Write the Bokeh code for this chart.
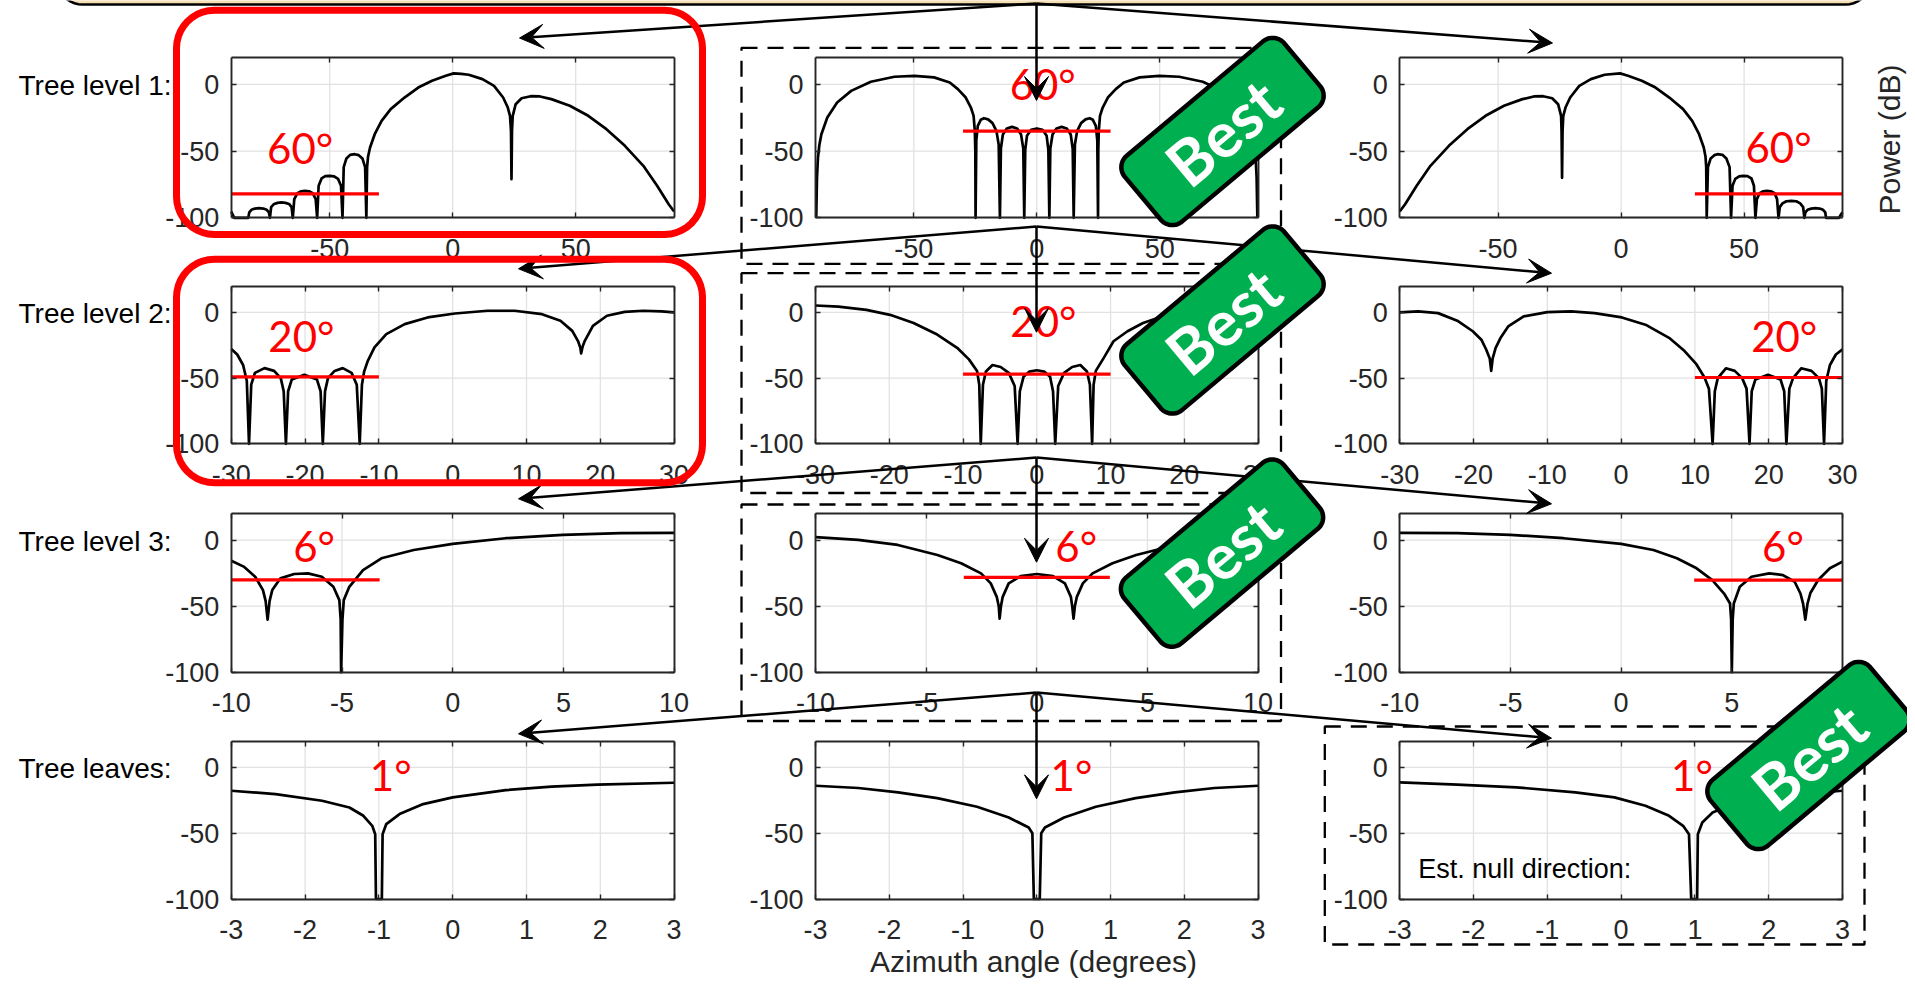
import math
from bokeh.plotting import figure
from bokeh.models import Range1d, LinearAxis, FixedTicker, Arrow, VeeHead, CustomJSTickFormatter
from bokeh.embed import file_html
from bokeh.resources import INLINE
from bokeh.core.properties import value

# ===================== DATA =====================
row_labels = ["Tree level 1:", "Tree level 2:", "Tree level 3:", "Tree leaves:"]
row_xlims = [(-90, 90), (-30, 30), (-10, 10), (-3, 3)]
row_xticks = [[-50, 0, 50], [-30, -20, -10, 0, 10, 20, 30],
              [-10, -5, 0, 5, 10], [-3, -2, -1, 0, 1, 2, 3]]
y_lim = (-100, 20)
y_ticks = [-100, -50, 0]
sector_text = ["60°", "20°", "6°", "1°"]
x_title = "Azimuth angle (degrees)"
y_title = "Power (dB)"
note_text = "Est. null direction:"
best_text = "Best"

# beam patterns (azimuth deg, power dB)
lvl1_left = [(-90, -95.3), (-89.5, -97.5), (-88.8, -100), (-83.1, -100),
             (-82.7, -96), (-81.8, -94), (-80.4, -93.1), (-78.7, -92.8), (-77, -93.1), (-75.6, -94), (-74.7, -96), (-74.3, -100),
             (-73.8, -92), (-72.6, -89.6), (-71.2, -88.8), (-69.6, -88.5), (-68, -88.8), (-66.5, -89.6), (-65.5, -92), (-65.0, -100),
             (-64.4, -86), (-63.1, -81.5), (-61.6, -80.1), (-60, -79.8), (-58.4, -80.1), (-56.9, -81.5), (-55.7, -86), (-55.1, -100),
             (-54.5, -76), (-53.3, -70.5), (-51.8, -68.8), (-50, -68.5), (-48.2, -68.9), (-46.6, -70.8), (-45.4, -76), (-44.8, -100),
             (-44.3, -62), (-43.2, -55.5), (-41.7, -52.8), (-39.8, -52.3), (-38.2, -53), (-36.7, -55.5), (-35.6, -62), (-35.1, -100),
             (-34.8, -62), (-34.4, -54), (-33.6, -47.3), (-31.7, -37.3), (-28.9, -27.3), (-25.2, -18.5), (-19.6, -9.8),
             (-14.0, -2.3), (-8.4, 2.8), (-2.8, 6.5), (0.4, 8.3), (3.5, 8.0), (6.5, 7.3), (12.1, 4.0), (16.8, -1.0),
             (20.5, -9.8), (22.4, -17.3), (23.3, -23.5), (23.7, -35), (23.9, -71), (24.1, -35), (24.4, -23.5),
             (25.6, -14.8), (28.0, -10.3), (31.7, -8.8), (35.5, -9.0), (40.1, -11.0), (47.6, -16.0), (55.1, -23.5),
             (62.5, -33.5), (70.0, -46.0), (77.5, -61.0), (83.1, -76.0), (87.8, -89.8), (90, -95.3)]

lvl1_mid = [(-89.7, -100), (-89.4, -70), (-89.0, -55), (-88.4, -45), (-87.6, -37.3), (-85.2, -24.8), (-81.2, -13.5),
            (-75.5, -4.8), (-67.5, 2.0), (-57.9, 5.8), (-49.8, 6.5), (-41.8, 5.3), (-35.4, 1.5), (-32.1, -3.5),
            (-28.9, -9.8), (-26.8, -17.3), (-25.7, -23.5), (-25.2, -35), (-25.0, -50), (-24.9, -100),
            (-24.6, -42), (-24.0, -31), (-22.8, -26.5), (-21.5, -25.3), (-19.8, -26.2), (-18, -29), (-16.4, -35), (-15.5, -45), (-15.0, -100),
            (-14.6, -48), (-13.8, -37.5), (-12.2, -33), (-10.1, -31.8), (-8.0, -33), (-6.4, -37.5), (-5.5, -48), (-5.1, -100),
            (-4.7, -49), (-4.0, -38.5), (-2.3, -34), (0, -33), (2.3, -34), (4.0, -38.5), (4.7, -49), (5.1, -100),
            (5.5, -48), (6.4, -37.5), (8.0, -33), (10.1, -31.8), (12.2, -33), (13.8, -37.5), (14.6, -48), (15.0, -100),
            (15.5, -45), (16.4, -35), (18, -29), (19.8, -26.2), (21.5, -25.3), (22.8, -26.5), (24.0, -31), (24.6, -42), (24.9, -100),
            (25.0, -50), (25.2, -35), (25.7, -23.5), (26.8, -17.3), (28.9, -9.8), (32.1, -3.5), (35.4, 1.5), (41.8, 5.3),
            (49.8, 6.5), (57.9, 5.8), (67.5, 2.0), (75.5, -4.8), (81.2, -13.5), (85.2, -24.8), (87.6, -37.3),
            (88.4, -45), (89.0, -55), (89.4, -70), (89.7, -100)]

lvl1_right = [(-90, -95.3), (-87.8, -89.8), (-83.1, -76), (-77.5, -61), (-70, -46), (-62.5, -33.5), (-55.1, -23.5),
              (-47.6, -16), (-40.1, -11), (-35.5, -9), (-31.7, -8.8), (-28, -10.3), (-25.6, -14.8), (-24.4, -23.5),
              (-24.2, -35), (-24.0, -70), (-23.8, -35), (-23.5, -23.5), (-22.6, -17.3), (-20.7, -9.8), (-17, -1),
              (-12.3, 4), (-6.7, 7.3), (-0.4, 8.3), (2.8, 6.5), (8.4, 2.8), (14, -2.3), (19.6, -9.8), (25.2, -18.5),
              (28.9, -27.3), (31.7, -37.3), (33.6, -47.3), (34.3, -54), (34.6, -62), (34.8, -100),
              (35.3, -62), (36.4, -55.5), (37.9, -53), (39.2, -52.3), (41.2, -52.8), (42.8, -55.5), (44.1, -62), (44.7, -100),
              (45.3, -76), (46.4, -70.8), (48, -68.9), (49.6, -68.5), (51.4, -68.8), (53, -70.5), (54, -76), (54.6, -100),
              (55.2, -86), (56.3, -81.5), (57.8, -80.1), (59.3, -79.8), (60.9, -80.1), (62.4, -81.5), (63.4, -86), (64.0, -100),
              (64.5, -92), (65.6, -89.2), (67.2, -87.6), (69.2, -87.3), (71.2, -87.6), (72.8, -89.2), (74.0, -92), (74.5, -100),
              (74.9, -96), (75.8, -94), (77.3, -93.1), (79.0, -92.8), (80.7, -93.1), (82.1, -94), (83.0, -96), (83.3, -100),
              (88.6, -100), (89.4, -97.5), (90, -95.8)]

lvl2_left = [(-30, -27.9), (-29.2, -32), (-28.4, -40), (-27.9, -52), (-27.6, -100),
             (-27.3, -55), (-26.8, -46), (-25.5, -42.4), (-24.2, -44.5), (-23.3, -50), (-22.9, -60), (-22.6, -100),
             (-22.3, -60), (-21.8, -51), (-20.1, -47.5), (-18.4, -51), (-17.9, -60), (-17.6, -100),
             (-17.3, -60), (-16.9, -50), (-16.0, -44.5), (-14.9, -42.4), (-13.7, -46), (-13.0, -55), (-12.6, -100),
             (-12.3, -55), (-12.0, -45), (-11.5, -36.8), (-10.6, -26.6), (-9.0, -16.5), (-6.5, -8.9), (-3.4, -3.8),
             (0.3, -0.8), (4.7, 1.3), (8.4, 1.3), (12.1, -1.3), (14.6, -6.3), (16.2, -14), (17.0, -22), (17.3, -27),
             (17.4, -31.2), (17.6, -26), (17.9, -21.6), (19.0, -10.2), (20.9, -2.5), (23.3, 0.5), (25.8, 1.3),
             (28.3, 0.8), (30, 0)]

lvl2_mid = [(-30, 5.3), (-26.9, 4.5), (-23.1, 2), (-19.9, -1.8), (-16.7, -8), (-13.5, -16.8), (-10.8, -26.9),
            (-9.2, -35.7), (-8.1, -44.5), (-7.8, -55), (-7.6, -100),
            (-7.3, -55), (-6.9, -45), (-6.0, -40), (-4.9, -41.5), (-3.8, -46), (-3.0, -56), (-2.6, -100),
            (-2.3, -60), (-1.8, -49), (-1.0, -45), (0, -44), (1.0, -45), (1.8, -49), (2.2, -60), (2.5, -100),
            (2.9, -56), (3.7, -46), (4.8, -41.5), (5.9, -40), (6.8, -45), (7.2, -55), (7.5, -100),
            (7.7, -55), (8.0, -44.5), (9.1, -34.4), (10.4, -21.9), (12.3, -14.3), (14.4, -8), (17.7, -1.8),
            (20.9, 2), (24.1, 4.5), (30, 5.3)]

lvl2_right = [(-30, 0), (-27.5, 0.8), (-24.8, -0.5), (-22.2, -6.3), (-20.1, -14.3), (-18.9, -21), (-18.3, -28),
              (-17.8, -35), (-17.6, -44.5), (-17.4, -35), (-17.0, -27), (-16.3, -19), (-15.3, -10.6), (-13.2, -3),
              (-10, 0.3), (-6.8, 0.8), (-3.6, -0.5), (0.1, -3.8), (3.3, -9.3), (6.5, -19.3), (8.6, -29.4),
              (10.2, -39.4), (11.3, -49.5), (11.9, -58), (12.4, -100),
              (12.7, -60), (13.1, -50), (14.2, -42.5), (15.4, -44.5), (16.4, -50), (17.0, -58), (17.4, -100),
              (17.7, -60), (18.2, -51), (19.9, -47.5), (21.6, -51), (22.1, -60), (22.4, -100),
              (22.8, -58), (23.3, -50), (24.4, -42.5), (25.8, -44.5), (26.8, -50), (27.2, -58), (27.5, -100),
              (27.8, -52), (28.3, -40), (29.1, -32), (30, -28.1)]

lvl3_left = [(-10, -15.5), (-9.44, -20), (-8.92, -27.7), (-8.57, -37.8), (-8.45, -46), (-8.36, -60.2), (-8.27, -46),
             (-8.15, -37.8), (-7.78, -28.9), (-7.16, -25.6), (-6.54, -25.1), (-5.91, -27.7), (-5.39, -35.3),
             (-5.12, -45.4), (-5.06, -60), (-5.04, -100), (-4.98, -60), (-4.92, -45.4), (-4.67, -35.3),
             (-4.05, -22.6), (-3.22, -13.7), (-1.76, -7.4), (0, -2.8), (2.39, 1.5), (4.98, 4.1), (7.57, 5.3), (10, 5.6)]

lvl3_mid = [(-10, 2.3), (-8.07, 0.3), (-6.28, -3.6), (-4.49, -11.2), (-3.42, -17.5), (-2.52, -25.1), (-2.08, -32.7),
            (-1.81, -42.9), (-1.72, -50), (-1.68, -59.4), (-1.62, -50), (-1.54, -42.9), (-1.27, -32.7), (-0.73, -27.2),
            (0, -25.6), (0.73, -27.2), (1.27, -32.7), (1.54, -42.9), (1.6, -50), (1.66, -59.4), (1.72, -50),
            (1.81, -42.9), (2.08, -32.7), (2.52, -25.1), (3.42, -17.5), (4.49, -11.2), (6.28, -3.6), (8.07, 0.3), (10, 2.3)]

lvl3_right = [(-10, 5.6), (-7.4, 5.3), (-5.0, 4.1), (-2.6, 1.5), (0, -2.8), (1.46, -7.4), (2.52, -13.7), (3.41, -21.3),
              (4.12, -30.2), (4.65, -40.4), (4.92, -48), (4.97, -60), (5.0, -100), (5.04, -60), (5.09, -48),
              (5.36, -35.3), (5.89, -27.7), (6.69, -25.1), (7.31, -26.4), (7.84, -31.5), (8.1, -40.4), (8.22, -48),
              (8.32, -60.2), (8.42, -48), (8.55, -40), (8.9, -30.2), (9.43, -21.3), (10, -16.2)]

leaf_left = [(-3, -17.8), (-2.4, -20.3), (-1.77, -25.4), (-1.4, -30.5), (-1.21, -36.8), (-1.09, -44.4), (-1.05, -50.8),
             (-1.04, -100), (-0.96, -100), (-0.95, -50.8), (-0.9, -43.1), (-0.72, -35.5), (-0.4, -27.9), (0, -22.8),
             (0.72, -17.3), (1.34, -14.7), (1.96, -13.2), (3, -11.7)]

leaf_mid = [(-3, -14), (-2.42, -15.7), (-1.88, -19), (-1.35, -23.4), (-0.81, -29.9), (-0.38, -38.1), (-0.11, -45.7),
            (-0.06, -50), (-0.04, -100), (0.04, -100), (0.06, -50), (0.11, -45.7), (0.37, -38.1), (0.8, -29.9),
            (1.34, -23.4), (1.87, -19), (2.41, -15.7), (3, -14)]

leaf_right = [(-3, -11.4), (-2.22, -13.2), (-1.42, -15.2), (-0.62, -19), (-0.09, -22.8), (0.33, -29.2), (0.65, -36.8),
              (0.84, -44.4), (0.92, -50.8), (0.95, -100), (1.03, -100), (1.04, -50.8), (1.1, -41.9), (1.24, -34.3),
              (1.4, -30.5), (1.77, -25.4), (2.4, -20.3), (3, -17.8)]

curves = [[lvl1_left, lvl1_mid, lvl1_right],
          [lvl2_left, lvl2_mid, lvl2_right],
          [lvl3_left, lvl3_mid, lvl3_right],
          [leaf_left, leaf_mid, leaf_right]]

# red sector lines (x0, x1, level dB) per panel, rows 1-3
red_x0 = [[-90, -30, 30], [-30, -10, 10], [-10, -3.3, 3.3]]
red_x1 = [[-30, 30, 90], [-10, 10, 30], [-3.3, 3.3, 10]]
red_lvl = [[-82, -35, -82], [-49, -47, -49.5], [-30, -28.2, -30.2]]

# red sector label positions (data units)
lab_x = [[-62, 2.4, 64], [-20.5, 0.9, 22.1], [-6.26, 1.78, 7.31], [-0.84, 0.47, 0.96]]
lab_y = [[-48, 0, -47], [-18.2, -6.7, -18.2], [-4.6, -4.6, -4.6], [-5.8, -5.8, -5.8]]

note_pos = (-2.75, -77)   # "Est. null direction:" in leaf-right panel

# ===================== LAYOUT =====================
FIG_W, FIG_H = 1907, 979
X0, Y0 = 0, 0
col_px = [(230.8, 673.6), (815.0, 1257.6), (1399.2, 1842.0)]
row_px = [(57.3, 217.3), (285.7, 443.3), (513.3, 671.7), (740.5, 898.5)]

p = figure(width=FIG_W, height=FIG_H,
           x_range=Range1d(X0, X0 + FIG_W), y_range=Range1d(Y0 + FIG_H, Y0),
           x_axis_type=None, y_axis_type=None, toolbar_location=None,
           output_backend="svg", min_border=0)
p.outline_line_color = None
p.background_fill_color = "white"
p.border_fill_color = "white"

xr, yr = {}, {}
for r in range(4):
    for c in range(3):
        name = f"p{r}{c}"
        L, R = col_px[c]
        T, B = row_px[r]
        xmin, xmax = row_xlims[r]
        ymin, ymax = y_lim
        kx = (R - L) / (xmax - xmin)
        ky = (B - T) / (ymax - ymin)
        s = xmin - (L - X0) / kx
        xr[name] = Range1d(s, s + FIG_W / kx)
        s = ymin - (Y0 + FIG_H - B) / ky
        yr[name] = Range1d(s, s + FIG_H / ky)
p.extra_x_ranges = xr
p.extra_y_ranges = yr

AX_COL = "#262626"
TICK_FONT = "Liberation Sans"


def make_axis(name, loc, bounds, ticks, show_labels, standoff):
    ax = LinearAxis(x_range_name=name, y_range_name=name, fixed_location=loc,
                    bounds=bounds, ticker=FixedTicker(ticks=ticks),
                    formatter=CustomJSTickFormatter(code="return String(tick);"))
    ax.axis_line_color = AX_COL
    ax.axis_line_width = 1.9
    ax.major_tick_line_color = AX_COL
    ax.major_tick_line_width = 1.4
    ax.major_tick_in = 5
    ax.major_tick_out = 0
    ax.minor_tick_line_color = None
    ax.major_label_text_font = TICK_FONT
    ax.major_label_text_color = AX_COL
    ax.major_label_standoff = standoff
    if show_labels:
        ax.major_label_text_font_size = "27px"
    else:
        ax.major_label_text_font_size = "0px"
        ax.major_label_text_alpha = 0
    return ax


def rounded_rect(cx, cy, L, Wd, r, ang_deg=0.0, n=10):
    hl, hw = L / 2.0, Wd / 2.0
    pts = []
    for (ux, vy, a0) in [(hl - r, hw - r, 0), (-hl + r, hw - r, 90),
                         (-hl + r, -hw + r, 180), (hl - r, -hw + r, 270)]:
        for k in range(n + 1):
            a = math.radians(a0 + 90.0 * k / n)
            pts.append((ux + r * math.cos(a), vy + r * math.sin(a)))
    t = math.radians(ang_deg)
    xs = [cx + u * math.cos(t) - v * math.sin(t) for u, v in pts]
    ys = [cy - (u * math.sin(t) + v * math.cos(t)) for u, v in pts]
    return xs, ys


# title box at the very top (mostly outside the picture)
tx, ty = rounded_rect((56 + 1871) / 2, (-80 + 4) / 2, 1871 - 56, 84, 26)
p.patch(tx, ty, fill_color="#f5deb3", line_color="black", line_width=2.5)

for r in range(4):
    xmin, xmax = row_xlims[r]
    ymin, ymax = y_lim
    xt = row_xticks[r]
    for c in range(3):
        name = f"p{r}{c}"
        kw = dict(x_range_name=name, y_range_name=name)
        # grid
        p.segment(x0=xt, y0=[ymin] * len(xt), x1=xt, y1=[ymax] * len(xt),
                  line_color="#e2e2e2", line_width=1.3, **kw)
        p.segment(x0=[xmin] * len(y_ticks), y0=y_ticks, x1=[xmax] * len(y_ticks), y1=y_ticks,
                  line_color="#e2e2e2", line_width=1.3, **kw)
        # curve
        pts = curves[r][c]
        p.line([q[0] for q in pts], [q[1] for q in pts], line_color="black",
               line_width=2.7, line_join="round", **kw)
        # red sector line
        if r < 3:
            p.segment(x0=[red_x0[r][c]], y0=[red_lvl[r][c]], x1=[red_x1[r][c]], y1=[red_lvl[r][c]],
                      line_color="#ff0000", line_width=3.2, **kw)
        # red label
        p.text(x=[lab_x[r][c]], y=[lab_y[r][c]], text=[sector_text[r]],
               text_font=value("Lato"), text_font_size="42px", text_color="#ff0000",
               text_align="center", text_baseline="middle", **kw)
        # axes (box)
        p.add_layout(make_axis(name, ymin, (xmin, xmax), xt, True, 21), "below")
        p.add_layout(make_axis(name, xmin, (ymin, ymax), y_ticks, True, 12), "left")
        p.add_layout(make_axis(name, ymax, (xmin, xmax), xt, False, 0), "above")
        p.add_layout(make_axis(name, xmax, (ymin, ymax), y_ticks, False, 0), "right")

# "Est. null direction:"
p.text(x=[note_pos[0]], y=[note_pos[1]], text=[note_text], x_range_name="p32", y_range_name="p32",
       text_font=value(TICK_FONT), text_font_size="27px", text_color="black",
       text_align="left", text_baseline="middle")

# row labels
row_label_y = [85, 313, 541, 768]
p.text(x=[18] * 4, y=row_label_y, text=row_labels, text_font=value(TICK_FONT),
       text_font_size="28px", text_color="black", text_align="left", text_baseline="middle")

# axis titles
p.text(x=[1033], y=[961], text=[x_title], text_font=value(TICK_FONT), text_font_size="30px",
       text_color=AX_COL, text_align="center", text_baseline="middle")
p.text(x=[1889], y=[139], text=[y_title], text_font=value(TICK_FONT), text_font_size="30px",
       text_color=AX_COL, text_align="center", text_baseline="middle", angle=90, angle_units="deg")

# ===================== ANNOTATIONS =====================
# tree arrows
arrow_src = [(1036, 3), (1036, 226), (1036, 457), (1036, 692)]
arrow_dst = [[(519, 37.5), (1036, 100), (1552, 42.5)],
             [(518, 268.3), (1036, 331.7), (1551, 272.7)],
             [(518, 498.3), (1036, 561.7), (1551, 503.3)],
             [(518, 733.3), (1036, 798.3), (1551, 737.7)]]
for (sx, sy), dsts in zip(arrow_src, arrow_dst):
    for (ex, ey) in dsts:
        p.add_layout(Arrow(end=VeeHead(size=24, fill_color="black", line_color="black", line_width=1),
                           x_start=sx, y_start=sy, x_end=ex, y_end=ey,
                           line_color="black", line_width=2.5))

# dashed boxes around chosen panels
dash_boxes = [(741, 1280.5, 47.3, 263.3), (741, 1280.5, 272.7, 492.5),
              (741, 1280.5, 504, 720.5), (1324.3, 1864, 726, 944)]
for (l, rr, t, b) in dash_boxes:
    p.patch([l, rr, rr, l], [t, t, b, b], fill_color=None, line_color="black",
            line_width=2.3, line_dash="16 10", level="overlay")

# red rounded boxes
for (l, rr, t, b) in [(176, 702, 9.7, 234), (176, 702, 258.7, 482.3)]:
    xs, ys = rounded_rect((l + rr) / 2, (t + b) / 2, rr - l, b - t, 38)
    p.patch(xs, ys, fill_color=None, line_color="#ff0000", line_width=7, level="overlay")

# "Best" tags
best_centers = [(1222, 131), (1222, 319.5), (1221.5, 552.6), (1808, 755)]
for (bx, by) in best_centers:
    xs, ys = rounded_rect(bx, by, 208, 86, 15, 40)
    p.patch(xs, ys, fill_color="#00b050", line_color="black", line_width=4.5, level="overlay")
    p.text(x=[bx], y=[by], text=[best_text], angle=40, angle_units="deg",
           text_font=value("Lato"), text_font_style="bold", text_font_size="63px",
           text_color="white", text_align="center", text_baseline="middle", level="overlay")

open("out.html", "w").write(file_html(p, INLINE))
